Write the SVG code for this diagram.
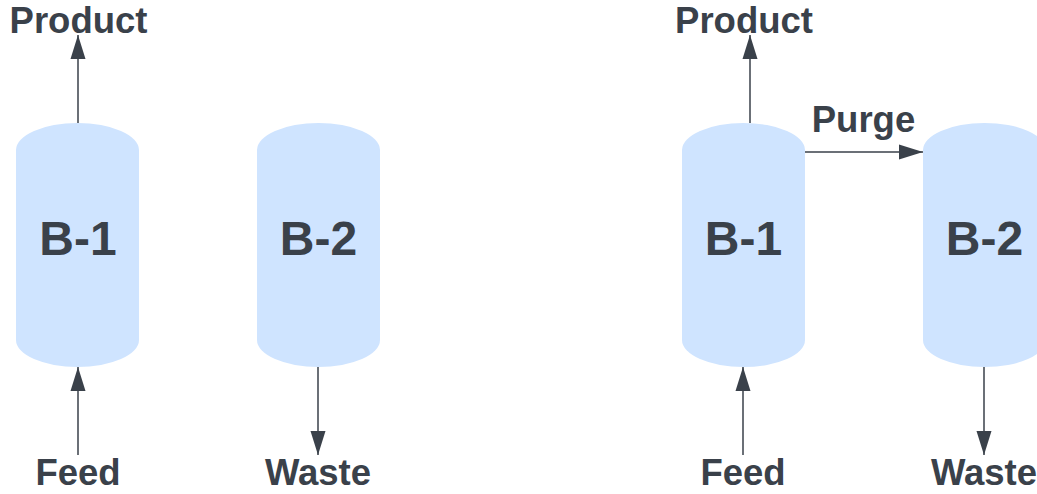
<svg xmlns="http://www.w3.org/2000/svg" width="1037" height="494" viewBox="0 0 1037 494">
<style>
.tank{fill:#cfe4ff;stroke:none}
.lbl{font-family:"Liberation Sans",Arial,sans-serif;font-weight:bold;font-size:36.5px;fill:#3a414a;text-anchor:middle}
.big{font-family:"Liberation Sans",Arial,sans-serif;font-weight:bold;font-size:48px;fill:#3a414a;text-anchor:middle}
.c{stroke:#3a414a;stroke-width:1.5;fill:none;marker-end:url(#ah)}
</style>
<defs>
<marker id="ah" markerUnits="userSpaceOnUse" markerWidth="24" markerHeight="16" refX="24" refY="8" orient="auto">
<path d="M0,0.5 L24,8 L0,15.5 Z" fill="#3a414a"/>
</marker>
</defs>
<rect width="1037" height="494" fill="#ffffff"/>
<g id="left-b1">
<path class="tank" d="M16,150 A61.5,27 0 0 1 139,150 V340 A61.5,27 0 0 1 16,340 Z"/>
<text class="big" x="78" y="255">B-1</text>
</g>
<g id="left-b2">
<path class="tank" d="M257,150 A61.5,27 0 0 1 380,150 V340 A61.5,27 0 0 1 257,340 Z"/>
<text class="big" x="318.5" y="255">B-2</text>
</g>
<g id="right-b1">
<path class="tank" d="M682,150 A61.5,27 0 0 1 805,150 V340 A61.5,27 0 0 1 682,340 Z"/>
<text class="big" x="743.5" y="255">B-1</text>
</g>
<g id="right-b2">
<path class="tank" d="M923,150 A61.5,27 0 0 1 1046,150 V340 A61.5,27 0 0 1 923,340 Z"/>
<text class="big" x="984.5" y="255">B-2</text>
</g>
<g id="labels">
<text class="lbl" x="78.5" y="33">Product</text>
<text class="lbl" x="78" y="485">Feed</text>
<text class="lbl" x="318" y="485">Waste</text>
<text class="lbl" x="744" y="33">Product</text>
<text class="lbl" x="863.5" y="132">Purge</text>
<text class="lbl" x="743" y="485">Feed</text>
<text class="lbl" x="984" y="485">Waste</text>
</g>
<g id="connectors">
<path class="c" d="M78,123 V35"/>
<path class="c" d="M78,455 V367"/>
<path class="c" d="M318,367 V455"/>
<path class="c" d="M750,123 V35"/>
<path class="c" d="M743,455 V367"/>
<path class="c" d="M984,367 V455"/>
<path class="c" d="M805,152 H923"/>
</g>
</svg>
